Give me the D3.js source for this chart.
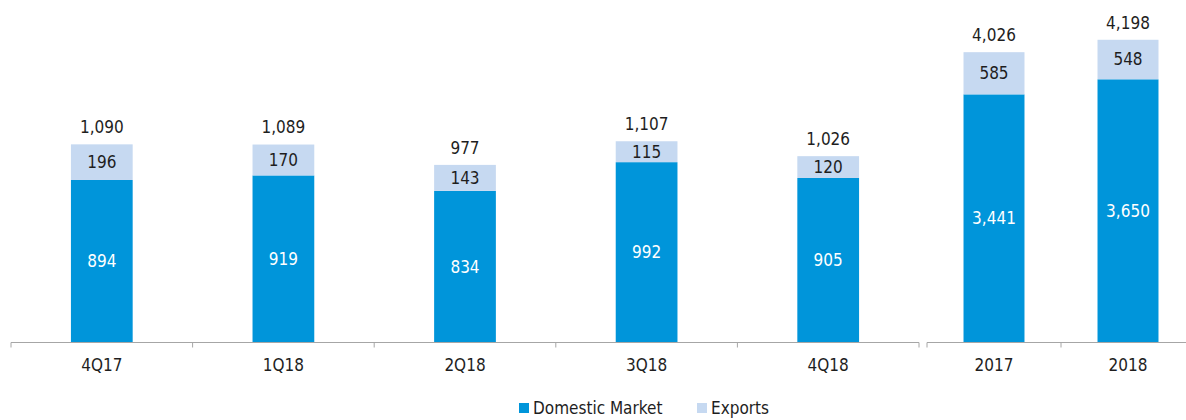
<!DOCTYPE html>
<html>
<head>
<meta charset="utf-8">
<script src="https://cdn.jsdelivr.net/npm/d3@7"></script>
<style>
	body { margin: 0; background: #fff; }
	svg text { font-family: "DejaVu Sans Condensed", "DejaVu Sans", sans-serif; font-size: 17px; }
</style>
</head>
<body>
<div id="chart"></div>
<script>
"use strict";

// quarterly panel
var quarters = ["4Q17", "1Q18", "2Q18", "3Q18", "4Q18"];
var quarterDomestic = [894, 919, 834, 992, 905];
var quarterExports = [196, 170, 143, 115, 120];
var quarterTotals = [1090, 1089, 977, 1107, 1026];

// yearly panel
var years = ["2017", "2018"];
var yearDomestic = [3441, 3650];
var yearExports = [585, 548];
var yearTotals = [4026, 4198];

var seriesNames = ["Domestic Market", "Exports"];
var colors = {domestic: "#0095da", exports: "#c6d9f1"};
var textColor = "#1e1e1e";

var W = 1186, H = 420;
var baseY = 342.5;
var fmt = d3.format(",");

var svg = d3.select("#chart").append("svg")
	.attr("width", W)
	.attr("height", H);

function buildRows(cats, dom, exp, tot) {
	return cats.map(function(c, i) {
		return {cat: c, domestic: dom[i], exports: exp[i], total: tot[i]};
	});
}

function drawPanel(rows, x0, x1, yMax, padding) {
	var g = svg.append("g");
	var scaleX = d3.scaleBand()
		.domain(rows.map(function(d) { return d.cat; }))
		.range([x0, x1])
		.paddingInner(padding)
		.paddingOuter(padding / 2);
	var scaleY = d3.scaleLinear()
		.domain([0, yMax])
		.range([baseY, 18]);

	var bars = g.selectAll(".bar")
		.data(rows)
		.enter().append("g")
		.attr("class", "bar");

	bars.append("rect")
		.attr("x", function(d) { return scaleX(d.cat); })
		.attr("width", scaleX.bandwidth())
		.attr("y", function(d) { return scaleY(d.domestic); })
		.attr("height", function(d) { return scaleY(0) - scaleY(d.domestic); })
		.attr("fill", colors.domestic);

	bars.append("rect")
		.attr("x", function(d) { return scaleX(d.cat); })
		.attr("width", scaleX.bandwidth())
		.attr("y", function(d) { return scaleY(d.domestic + d.exports); })
		.attr("height", function(d) { return scaleY(d.domestic) - scaleY(d.domestic + d.exports); })
		.attr("fill", colors.exports);

	var cx = function(d) { return scaleX(d.cat) + scaleX.bandwidth() / 2; };

	// domestic labels
	bars.append("text")
		.attr("x", cx)
		.attr("y", function(d) { return (scaleY(0) + scaleY(d.domestic)) / 2; })
		.attr("dy", "0.35em")
		.attr("text-anchor", "middle")
		.attr("fill", "#ffffff")
		.text(function(d) { return fmt(d.domestic); });

	// exports labels
	bars.append("text")
		.attr("x", cx)
		.attr("y", function(d) { return (scaleY(d.domestic) + scaleY(d.domestic + d.exports)) / 2; })
		.attr("dy", "0.35em")
		.attr("text-anchor", "middle")
		.attr("fill", textColor)
		.text(function(d) { return fmt(d.exports); });

	// totals
	bars.append("text")
		.attr("x", cx)
		.attr("y", function(d) { return scaleY(d.domestic + d.exports) - 17; })
		.attr("dy", "0.35em")
		.attr("text-anchor", "middle")
		.attr("fill", textColor)
		.text(function(d) { return fmt(d.total); });

	// axis
	var axis = d3.axisBottom(scaleX)
		.tickSize(0)
		.tickPadding(16);
	var ax = g.append("g")
		.attr("transform", "translate(0," + baseY + ")")
		.call(axis);
	ax.attr("font-size", null).attr("font-family", null);
	ax.select(".domain")
		.attr("d", "M" + x0 + ",5V0H" + x1 + "V5")
		.attr("stroke", "#a6a6a6")
		.attr("fill", "none");
	ax.selectAll(".tick text")
		.attr("fill", textColor);
	// separators between categories
	g.selectAll(".sep")
		.data(rows.slice(1))
		.enter().append("line")
		.attr("x1", function(d) { return scaleX(d.cat) - scaleX.step() * padding / 2; })
		.attr("x2", function(d) { return scaleX(d.cat) - scaleX.step() * padding / 2; })
		.attr("y1", baseY)
		.attr("y2", baseY + 5)
		.attr("stroke", "#a6a6a6");
}

drawPanel(buildRows(quarters, quarterDomestic, quarterExports, quarterTotals), 11, 919, 1785, 0.66);
drawPanel(buildRows(years, yearDomestic, yearExports, yearTotals), 927, 1195, 4500, 0.545);

// legend
var legend = svg.append("g")
	.attr("transform", "translate(519,408)");
var items = legend.selectAll(".item")
	.data(seriesNames)
	.enter().append("g")
	.attr("transform", function(d, i) { return "translate(" + (i * 178) + ",0)"; });
items.append("rect")
	.attr("x", 0)
	.attr("y", -5)
	.attr("width", 10)
	.attr("height", 10)
	.attr("fill", function(d, i) { return i === 0 ? colors.domestic : colors.exports; });
items.append("text")
	.attr("x", 14)
	.attr("y", 0)
	.attr("dy", "0.35em")
	.attr("fill", textColor)
	.text(function(d) { return d; });
</script>
</body>
</html>
